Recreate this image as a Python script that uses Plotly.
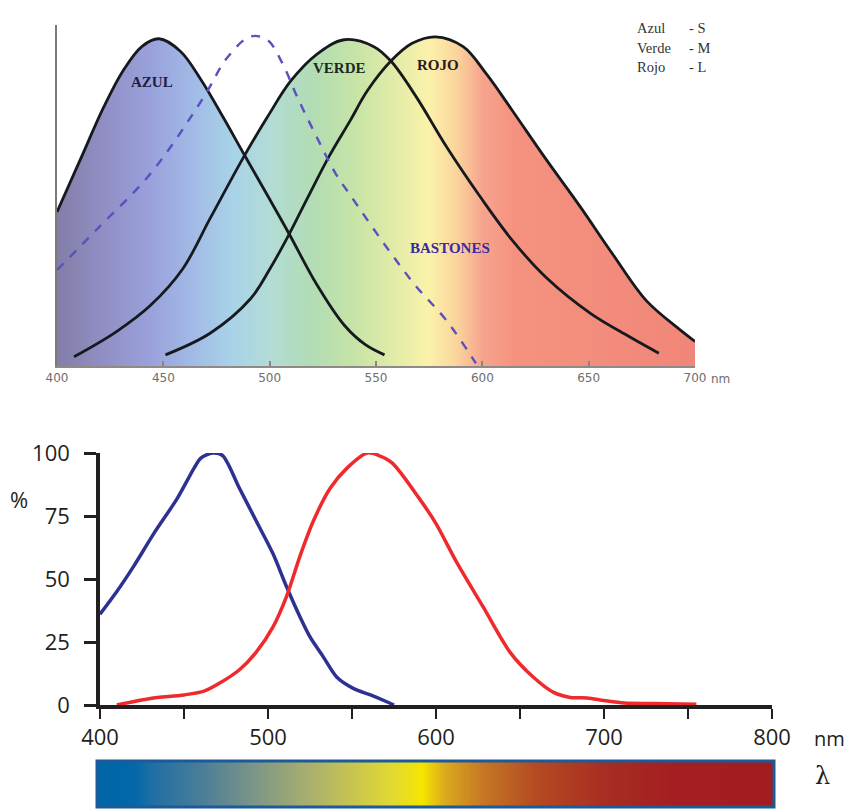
import numpy as np
import plotly.graph_objects as go

W, H = 847, 810

# ---------------- top chart data (relative sensitivity, % of peak) -------------
azul_x = [400, 411, 422, 431, 440, 448, 458, 468, 478, 488, 499, 509, 522, 535, 545, 554]
azul_y = [47, 63, 79, 90, 97.5, 99.8, 96, 87, 76, 64.5, 52, 40.5, 25, 12.5, 6.5, 3.4]

verde_x = [408, 428, 444, 459, 472, 488, 499, 510, 522, 535, 549, 557, 569, 583, 599, 614, 630, 651, 669, 683]
verde_y = [2.8, 10.5, 18.5, 29.5, 45, 64, 76, 87, 95, 99.5, 97.4, 93, 82, 67, 51.6, 38.4, 27, 16, 9, 3.9]

rojo_x = [451, 472, 491, 500, 509, 518, 528, 538, 546, 557, 567, 578, 591, 602, 614, 630, 646, 661, 677, 693, 700]
rojo_y = [3.4, 10, 20.5, 29.5, 40, 51.5, 64, 75, 84, 93, 98.4, 100.4, 97.4, 89, 78, 63, 48.6, 34.4, 20, 11, 7.5]

bast_x = [400, 420, 444, 469, 480, 491, 499, 506, 513, 522, 531, 538, 557, 569, 583, 597]
bast_y = [29.3, 42.5, 58.7, 82, 94, 100.5, 99.4, 92.3, 82, 70, 58.7, 52, 34.4, 24.2, 14, 0.8]

top_ticks = [400, 450, 500, 550, 600, 650, 700]
peak_labels = ["445nm", "498nm", "535nm", "575nm"]
peak_label_x = [444.7, 489.8, 534, 578.6]
peak_label_y = [105.5, 106.4, 105.5, 106.4]
cone_names = ["AZUL", "VERDE", "ROJO"]
cone_name_x = [444.7, 533, 579]
cone_name_y = [86.6, 90.9, 91.8]
legend_names = ["Azul", "Verde", "Rojo"]
legend_codes = ["- S", "- M", "- L"]

# ---------------- bottom chart data ---------------------------------------------
blue_x = [400, 410, 420, 432, 446, 456, 460, 467, 473, 483, 493, 503, 511, 519, 525, 533, 541, 551, 561, 571, 575]
blue_y = [36, 45, 55, 68, 82, 94, 98, 100, 99, 86, 73, 60, 47, 35, 27, 19, 11, 6.5, 4, 1.2, 0]

red_x = [410, 430, 450, 462, 471, 483, 493, 503, 511, 519, 527, 537, 547, 559, 566, 574, 590, 600, 612, 628, 644, 658, 670, 680, 690, 700, 712, 730, 755]
red_y = [0, 2.6, 4, 5.5, 8.6, 14, 21, 31, 43, 59, 73, 86, 94, 100, 99, 96, 82, 72, 57, 39, 21, 11, 5, 3, 2.8, 1.8, 0.8, 0.6, 0.3]

bottom_xticks = [400, 450, 500, 550, 600, 650, 700, 750, 800]
bottom_xticktext = ["400", "", "500", "", "600", "", "700", "", "800"]
bottom_yticks = [0, 25, 50, 75, 100]

lambda_strip = np.arange(397, 803, 1)

# ---------------- styles ----------------------------------------------------------
spec_scale = [
    [0.0, "#827ea8"], [0.067, "#908dc2"], [0.15, "#9aa2dc"], [0.217, "#a2bce6"],
    [0.273, "#a8d2e8"], [0.333, "#b2dcd6"], [0.4, "#b2dcb4"], [0.467, "#c6e4a6"],
    [0.533, "#e4eca8"], [0.583, "#fbf2aa"], [0.627, "#fad49c"], [0.667, "#f6a48e"],
    [0.717, "#f5927f"], [1.0, "#f08679"],
]
bar_scale = [
    [0.0, "#0066a8"], [0.05, "#0367a8"], [0.075, "#1e6ea4"], [0.15, "#4a7e98"],
    [0.225, "#7a9488"], [0.3, "#a4ac72"], [0.375, "#c8c450"], [0.4375, "#e2da30"],
    [0.48, "#f5e600"], [0.5125, "#dcaa1e"], [0.575, "#c47424"], [0.65, "#b44a22"],
    [0.75, "#a82e22"], [0.8625, "#a31d22"], [1.0, "#a31c22"],
]

def px2x(px):
    return px / W

def px2y(py):
    return 1 - py / H

fig = go.Figure()

SM = 1.0
# spectrum fills (union of the three cone curves)
for cx, cy in [(azul_x, azul_y), (verde_x, verde_y), (rojo_x, rojo_y)]:
    fig.add_trace(go.Scatter(
        x=cx, y=cy, mode="lines", line=dict(width=0, shape="spline", smoothing=SM),
        fill="tozeroy",
        fillgradient=dict(type="horizontal", colorscale=spec_scale, start=400, stop=700),
        hoverinfo="skip", showlegend=False, xaxis="x", yaxis="y"))

for cx, cy in [(azul_x, azul_y), (verde_x, verde_y), (rojo_x, rojo_y)]:
    fig.add_trace(go.Scatter(
        x=cx, y=cy, mode="lines",
        line=dict(color="#161a1e", width=2.8, shape="spline", smoothing=SM),
        showlegend=False, xaxis="x", yaxis="y"))

fig.add_trace(go.Scatter(
    x=bast_x, y=bast_y, mode="lines",
    line=dict(color="#5a50c0", width=2.4, dash="dash", shape="spline", smoothing=SM),
    showlegend=False, xaxis="x", yaxis="y"))

# bottom curves
fig.add_trace(go.Scatter(
    x=blue_x, y=blue_y, mode="lines",
    line=dict(color="#2e3192", width=3.5, shape="spline", smoothing=0.8),
    cliponaxis=False, showlegend=False, xaxis="x2", yaxis="y2"))
fig.add_trace(go.Scatter(
    x=red_x, y=red_y, mode="lines",
    line=dict(color="#ee2a2d", width=3.5, shape="spline", smoothing=0.8),
    cliponaxis=False, showlegend=False, xaxis="x2", yaxis="y2"))

# wavelength colour strip
fig.add_trace(go.Heatmap(
    x=lambda_strip, y=[0], z=[lambda_strip], zmin=400, zmax=800,
    colorscale=bar_scale, showscale=False, hoverinfo="skip",
    xaxis="x3", yaxis="y3"))

# ---------------- layout -----------------------------------------------------------
top_dom_x = [px2x(57), px2x(695)]
top_dom_y = [px2y(366), px2y(25)]
bot_dom_x = [px2x(100), px2x(772)]
bot_dom_y = [px2y(705), px2y(453)]
bar_dom_x = [px2x(97), px2x(774)]
bar_dom_y = [px2y(807), px2y(761)]

axis_font_top = dict(family="DejaVu Sans", size=12, color="#6e6e6e")
axis_font_bot = dict(family="Open Sans", size=22, color="#231f20")

fig.update_layout(
    width=W, height=H,
    margin=dict(l=0, r=0, t=0, b=0, autoexpand=False),
    paper_bgcolor="white", plot_bgcolor="rgba(0,0,0,0)",
    xaxis=dict(domain=top_dom_x, range=[400, 700], anchor="y", automargin=False,
               tickvals=top_ticks, ticktext=[str(t) for t in top_ticks],
               ticks="inside", ticklen=5, tickcolor="#8a857f", tickwidth=1.5,
               showline=True, linecolor="#8f8a85", linewidth=2,
               showgrid=False, zeroline=False, tickfont=axis_font_top),
    yaxis=dict(domain=top_dom_y, range=[0, 104], anchor="x", automargin=False,
               showline=True, linecolor="#7a7a7a", linewidth=2,
               showticklabels=False, ticks="", showgrid=False, zeroline=False),
    xaxis2=dict(domain=bot_dom_x, range=[400, 800], anchor="y2", automargin=False,
                tickvals=bottom_xticks, ticktext=bottom_xticktext,
                ticks="outside", ticklen=10, tickwidth=2, tickcolor="#231f20",
                showline=True, linecolor="#231f20", linewidth=3.5,
                showgrid=False, zeroline=False, tickfont=axis_font_bot,
                ticklabelstandoff=0),
    yaxis2=dict(domain=bot_dom_y, range=[0, 100], anchor="x2", automargin=False,
                tickvals=bottom_yticks, ticks="outside", ticklen=12, tickwidth=2.5,
                tickcolor="#231f20", showline=True, linecolor="#231f20", linewidth=3.5,
                showgrid=False, zeroline=False, tickfont=axis_font_bot,
                ticklabelstandoff=10),
    xaxis3=dict(domain=bar_dom_x, range=[397.6, 801.8], anchor="y3", automargin=False,
                visible=False, fixedrange=True),
    yaxis3=dict(domain=bar_dom_y, range=[-0.5, 0.5], anchor="x3", automargin=False,
                visible=False, fixedrange=True),
    shapes=[
        dict(type="rect", xref="paper", yref="paper",
             x0=bar_dom_x[0], x1=bar_dom_x[1], y0=bar_dom_y[0], y1=bar_dom_y[1],
             line=dict(color="#1d5a9a", width=3)),
    ],
)

annotations = []
serif = "Liberation Serif"
for t, x, y in zip(peak_labels, peak_label_x, peak_label_y):
    annotations.append(dict(text=t, x=x, y=y, xref="x", yref="y", showarrow=False,
                            xanchor="center", yanchor="middle",
                            font=dict(family=serif, size=14, color="#333333")))
name_colors = ["#1e1e40", "#1c2a1c", "#2a1a1a"]
for t, x, y, c in zip(cone_names, cone_name_x, cone_name_y, name_colors):
    annotations.append(dict(text="<b>%s</b>" % t, x=x, y=y, xref="x", yref="y", showarrow=False,
                            xanchor="center", yanchor="middle",
                            font=dict(family=serif, size=15, color=c)))
annotations.append(dict(text="<b>BASTONES</b>", x=584.8, y=36, xref="x", yref="y", showarrow=False,
                        xanchor="center", yanchor="middle",
                        font=dict(family=serif, size=15, color="#3a2aa0")))
for i, (n, c) in enumerate(zip(legend_names, legend_codes)):
    yy = px2y(28 + 19.5 * i)
    annotations.append(dict(text=n, x=px2x(635), y=yy, xref="paper", yref="paper",
                            xanchor="left", yanchor="middle", showarrow=False,
                            font=dict(family=serif, size=14.5, color="#333333")))
    annotations.append(dict(text=c, x=px2x(687), y=yy, xref="paper", yref="paper",
                            xanchor="left", yanchor="middle", showarrow=False,
                            font=dict(family=serif, size=14.5, color="#333333")))
annotations.append(dict(text="nm", x=px2x(709), y=px2y(379), xref="paper", yref="paper",
                        xanchor="left", yanchor="middle", showarrow=False, font=axis_font_top))
annotations.append(dict(text="%", x=px2x(19), y=px2y(499), xref="paper", yref="paper",
                        xanchor="center", yanchor="middle",
                        showarrow=False, font=dict(family="Open Sans", size=22, color="#231f20")))
annotations.append(dict(text="nm", x=px2x(812), y=px2y(738), xref="paper", yref="paper",
                        xanchor="left", yanchor="middle", showarrow=False,
                        font=dict(family="Open Sans", size=20, color="#231f20")))
annotations.append(dict(text="λ", x=px2x(822), y=px2y(776), xref="paper", yref="paper",
                        xanchor="center", yanchor="middle",
                        showarrow=False, font=dict(family="DejaVu Serif", size=24, color="#231f20")))
fig.update_layout(annotations=annotations)

fig.write_html("out.html")
